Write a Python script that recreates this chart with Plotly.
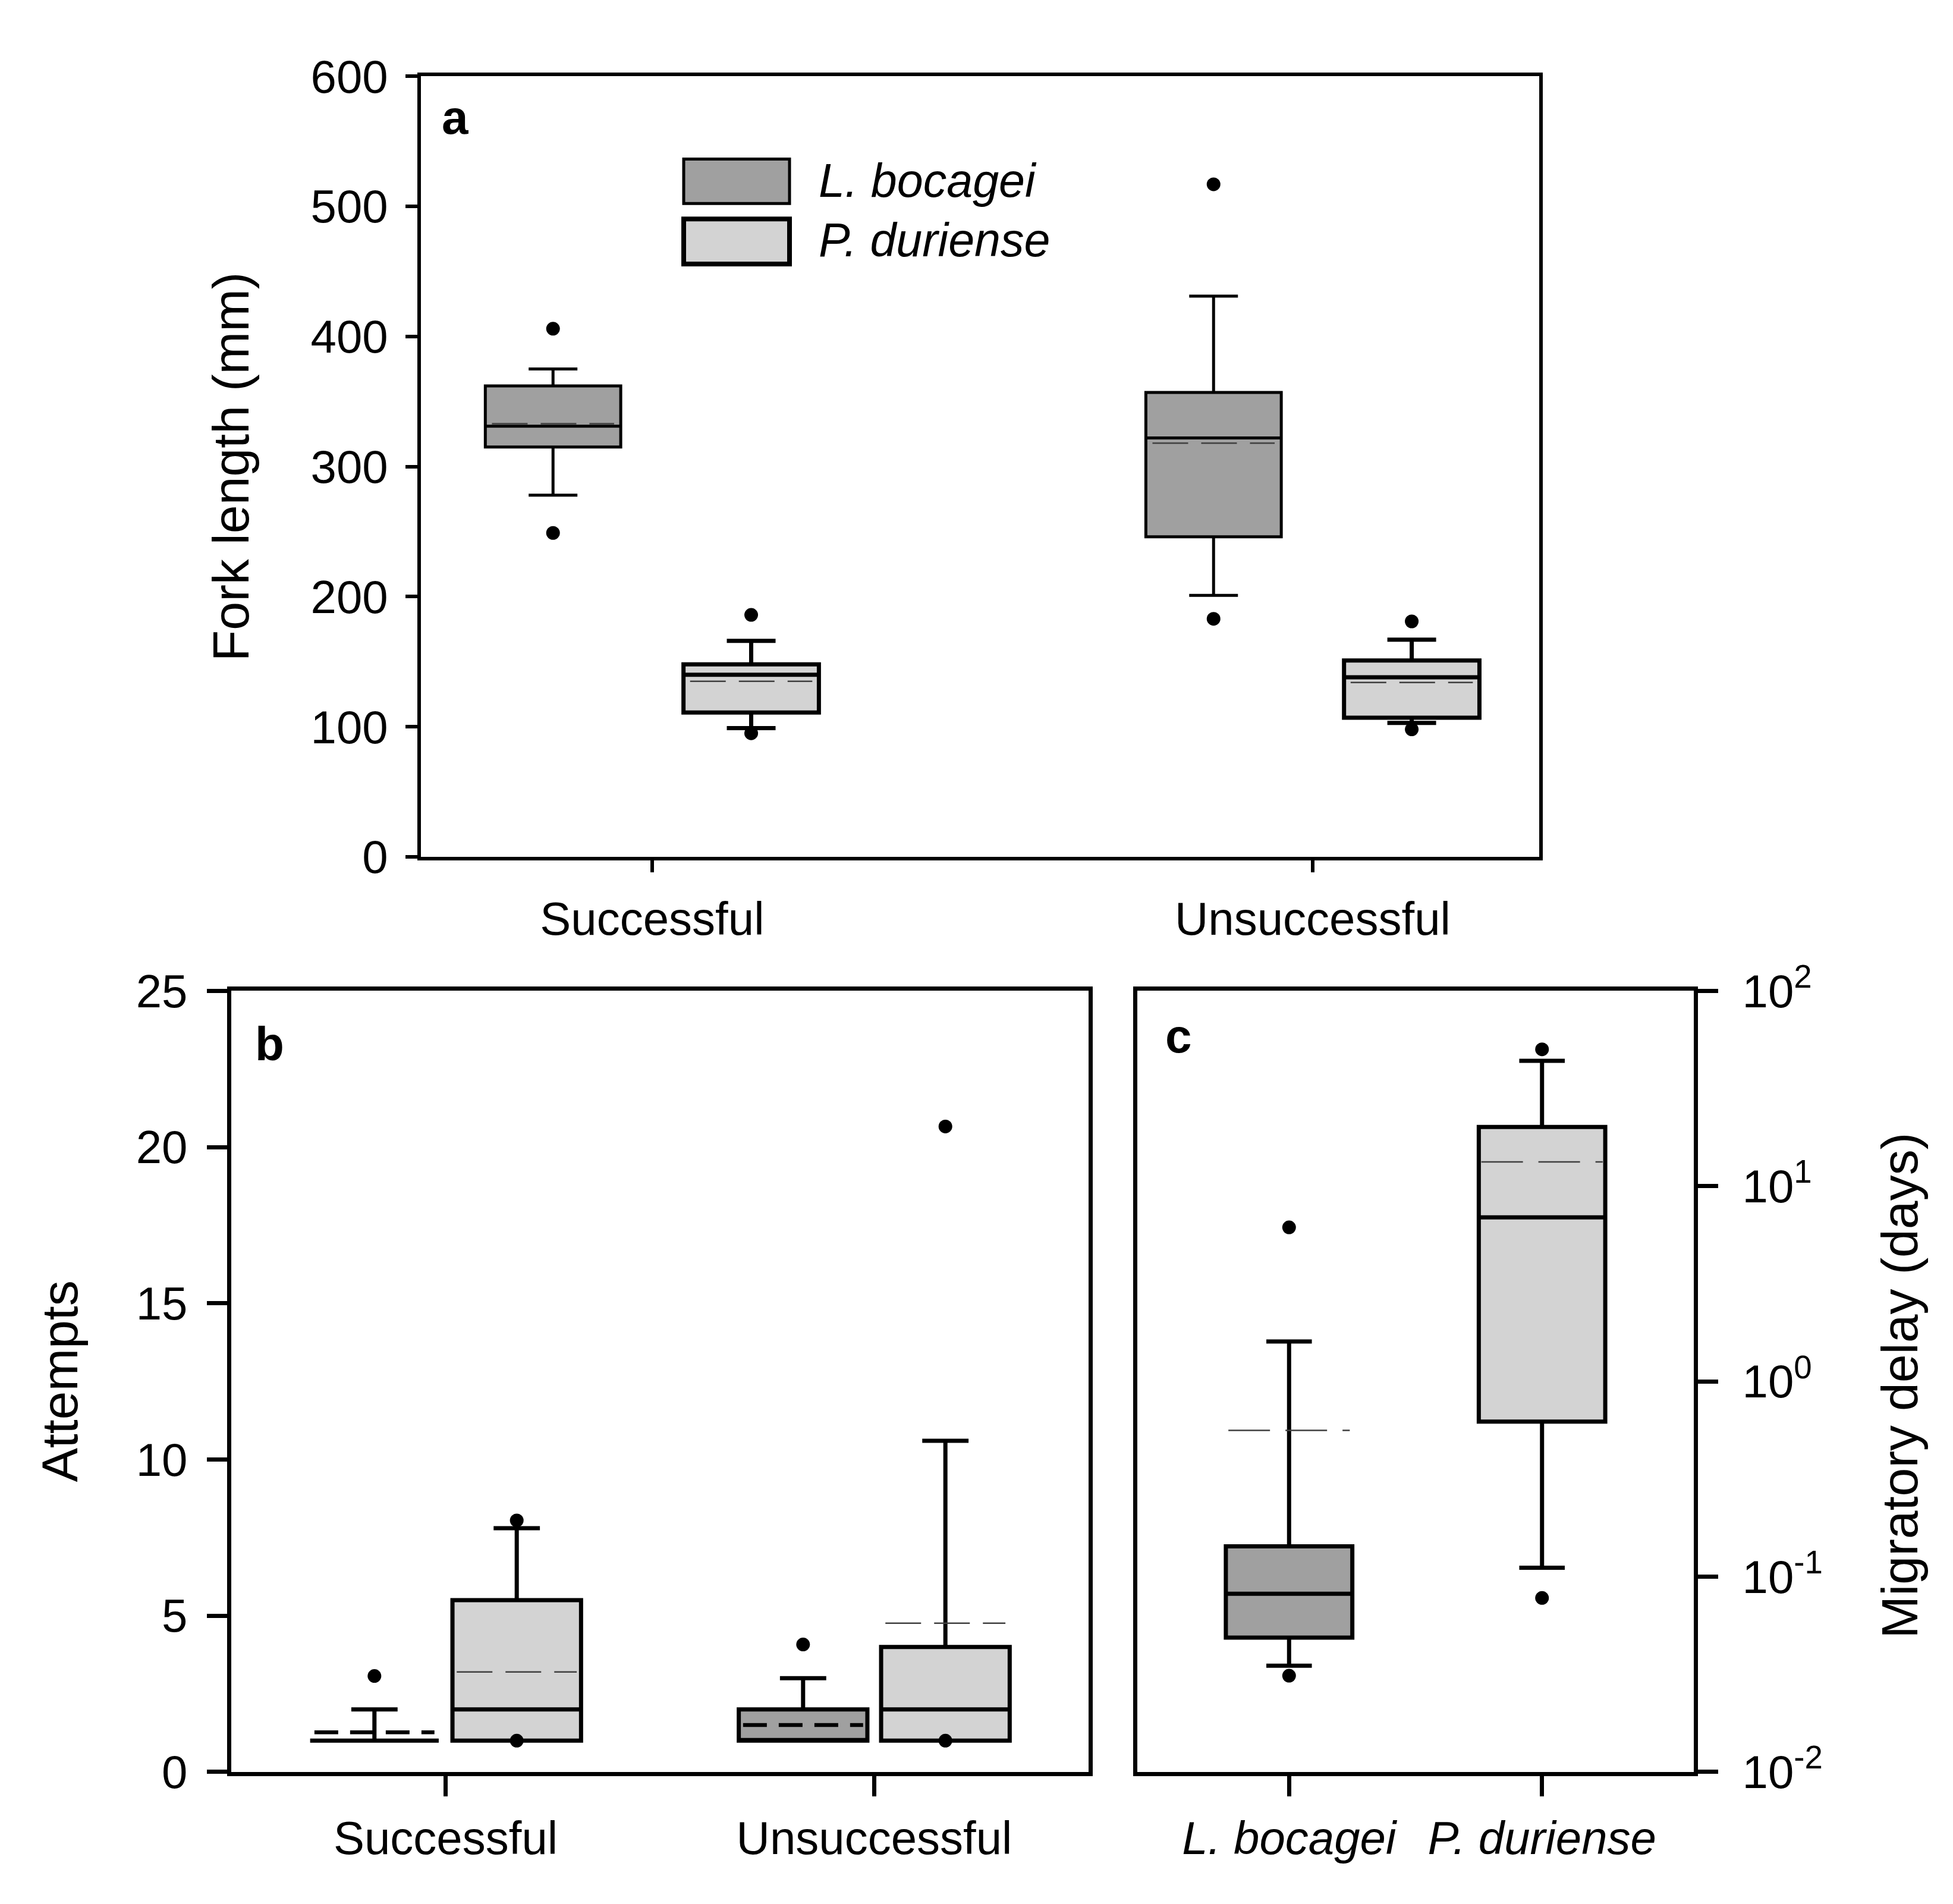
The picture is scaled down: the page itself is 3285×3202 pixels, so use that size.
import plotly.graph_objects as go

W, H = 3285, 3202
FONT = "Liberation Sans, Arial, sans-serif"
LB_FILL = "#a0a0a0"
PD_FILL = "#d3d3d3"

# panel a: fork length (mm)
groups = ["Successful", "Unsuccessful"]
a_lb_q1 = [315, 246]
a_lb_med = [331, 322]
a_lb_q3 = [362, 357]
a_lb_lo = [278, 201]
a_lb_hi = [375, 431]
a_lb_mean = [333, 318]
a_lb_out = [[249, 406], [183, 517]]

a_pd_q1 = [111, 107]
a_pd_med = [140, 138]
a_pd_q3 = [148, 151]
a_pd_lo = [99, 103]
a_pd_hi = [166, 167]
a_pd_mean = [135, 134]
a_pd_out = [[95, 186], [98, 181]]

# panel b: attempts
b_lb_q1 = [1, 1]
b_lb_med = [1, 1]
b_lb_q3 = [1, 2]
b_lb_lo = [1, 1]
b_lb_hi = [2, 3]
b_lb_mean = [1.27, 1.5]
b_lb_out = [[3.07], [4.08]]

b_pd_q1 = [1, 1]
b_pd_med = [2, 2]
b_pd_q3 = [5.5, 4]
b_pd_lo = [1, 1]
b_pd_hi = [7.8, 10.6]
b_pd_mean = [3.2, 4.76]
b_pd_out = [[1, 8.05], [1, 20.66]]

# panel c: migratory delay (days), one box per species
species = ["L. bocagei", "P. duriense"]
c_q1 = [0.0487, 0.622]
c_med = [0.0817, 6.92]
c_q3 = [0.143, 20.1]
c_lo = [0.035, 0.111]
c_hi = [1.60, 43.8]
c_mean = [0.561, 13.3]
c_out = [[0.0311, 6.15], [0.0778, 50.2]]

c_ticks = [0.01, 0.1, 1, 10, 100]
c_ticktext = ["10<sup>-2</sup>", "10<sup>-1</sup>", "10<sup>0</sup>", "10<sup>1</sup>", "10<sup>2</sup>"]

fig = go.Figure()


def add_boxes(pos, q1, med, q3, lo, hi, mean, out, fill, lw, bw, ax,
              mean_col="#404040", mean_w=2.5, mean_dash="60px,22px"):
    xa, ya = ax
    fig.add_trace(go.Box(x=pos, q1=q1, median=med, q3=q3, lowerfence=lo, upperfence=hi,
                         width=bw, whiskerwidth=0.36, fillcolor=fill,
                         line=dict(color="black", width=lw), boxpoints=False,
                         hoverinfo="skip", xaxis=xa, yaxis=ya))
    mx, my = [], []
    for p, m in zip(pos, mean):
        mx += [p - bw / 2 + 0.01, p + bw / 2 - 0.01, None]
        my += [m, m, None]
    fig.add_trace(go.Scatter(x=mx, y=my, mode="lines",
                             line=dict(color=mean_col, width=mean_w, dash=mean_dash),
                             hoverinfo="skip", xaxis=xa, yaxis=ya))
    ox, oy = [], []
    for p, vals in zip(pos, out):
        ox += [p] * len(vals)
        oy += vals
    fig.add_trace(go.Scatter(x=ox, y=oy, mode="markers",
                             marker=dict(color="black", size=23),
                             hoverinfo="skip", xaxis=xa, yaxis=ya))


idx = list(range(len(groups)))
# panel a
add_boxes([i - 0.15 for i in idx], a_lb_q1, a_lb_med, a_lb_q3, a_lb_lo, a_lb_hi,
          a_lb_mean, a_lb_out, LB_FILL, 5, 0.205, ("x", "y"))
add_boxes([i + 0.15 for i in idx], a_pd_q1, a_pd_med, a_pd_q3, a_pd_lo, a_pd_hi,
          a_pd_mean, a_pd_out, PD_FILL, 7, 0.205, ("x", "y"))
# panel b
add_boxes([i - 0.166 for i in idx], b_lb_q1, b_lb_med, b_lb_q3, b_lb_lo, b_lb_hi,
          b_lb_mean, b_lb_out, LB_FILL, 7, 0.30, ("x2", "y2"),
          mean_col="black", mean_w=6.5, mean_dash="40px,20px")
add_boxes([i + 0.166 for i in idx], b_pd_q1, b_pd_med, b_pd_q3, b_pd_lo, b_pd_hi,
          b_pd_mean, b_pd_out, PD_FILL, 7, 0.30, ("x2", "y2"))
# panel c
for i, fill in enumerate([LB_FILL, PD_FILL]):
    add_boxes([i], [c_q1[i]], [c_med[i]], [c_q3[i]], [c_lo[i]], [c_hi[i]],
              [c_mean[i]], [c_out[i]], fill, 7, 0.5, ("x3", "y3"),
              mean_dash="70px,26px")

tickfont = dict(family=FONT, size=78, color="black")


def axis_style(lw, tl):
    return dict(showline=True, linecolor="black", linewidth=lw, mirror=True,
                ticks="outside", ticklen=tl, tickwidth=lw, tickcolor="black",
                showgrid=False, zeroline=False, tickfont=tickfont)


fig.update_layout(
    width=W, height=H,
    margin=dict(l=0, r=0, t=0, b=0),
    paper_bgcolor="white", plot_bgcolor="white",
    showlegend=False,
    xaxis=dict(domain=[700 / W, 2581 / W], range=[-0.35, 1.343], anchor="y",
               tickmode="array", tickvals=idx, ticktext=groups,
               ticklabelstandoff=12, **axis_style(5.5, 20)),
    yaxis=dict(domain=[1 - 1422.5 / H, 1 - 68.5 / H], range=[0, 600], anchor="x",
               tickmode="linear", tick0=0, dtick=100,
               ticklabelstandoff=14, **axis_style(5.5, 20)),
    xaxis2=dict(domain=[381 / W, 1823 / W], range=[-0.5, 1.5], anchor="y2",
                tickmode="array", tickvals=idx, ticktext=groups,
                ticklabelstandoff=4, **axis_style(7, 34)),
    yaxis2=dict(domain=[1 - 3010 / H, 1 - 1655 / H], range=[0, 25], anchor="x2",
                tickmode="linear", tick0=0, dtick=5,
                ticklabelstandoff=17, **axis_style(7, 34)),
    xaxis3=dict(domain=[1905 / W, 2841 / W], range=[-0.6, 1.6], anchor="y3",
                tickmode="array", tickvals=[0, 1],
                ticktext=["<i>" + s + "</i>" for s in species],
                ticklabelstandoff=4, **axis_style(7, 34)),
    yaxis3=dict(domain=[1 - 3010 / H, 1 - 1655 / H], type="log", range=[-2, 2],
                anchor="x3", side="right",
                tickmode="array", tickvals=c_ticks, ticktext=c_ticktext,
                ticklabelstandoff=25, **axis_style(7, 34)),
)

# legend drawn by hand inside panel a
fig.add_shape(type="rect", xref="paper", yref="paper",
              x0=1142 / W, x1=1320 / W, y0=1 - 289 / H, y1=1 - 212 / H,
              fillcolor=LB_FILL, line=dict(color="black", width=5))
fig.add_shape(type="rect", xref="paper", yref="paper",
              x0=1142 / W, x1=1320 / W, y0=1 - 394 / H, y1=1 - 316 / H,
              fillcolor=PD_FILL, line=dict(color="black", width=8))


def note(text, x, y, size, angle=0, xanchor="left", bold=False, italic=False):
    if bold:
        text = "<b>" + text + "</b>"
    if italic:
        text = "<i>" + text + "</i>"
    fig.add_annotation(text=text, x=x / W, y=1 - y / H, xref="paper", yref="paper",
                       xanchor=xanchor, yanchor="middle", textangle=angle,
                       showarrow=False, font=dict(family=FONT, size=size, color="black"))


note("L. bocagei", 1367, 249, 79, italic=True)
note("P. duriense", 1367, 352, 79, italic=True)
note("a", 733, 140, 80, bold=True)
note("b", 419, 1747, 80, bold=True)
note("c", 1950, 1734, 80, bold=True)
note("Fork length (mm)", 380, 746, 86, angle=-90, xanchor="center")
note("Attempts", 92, 2333, 86, angle=-90, xanchor="center")
note("Migratory delay (days)", 3187, 2340, 86, angle=-90, xanchor="center")

fig.write_html("out.html")
